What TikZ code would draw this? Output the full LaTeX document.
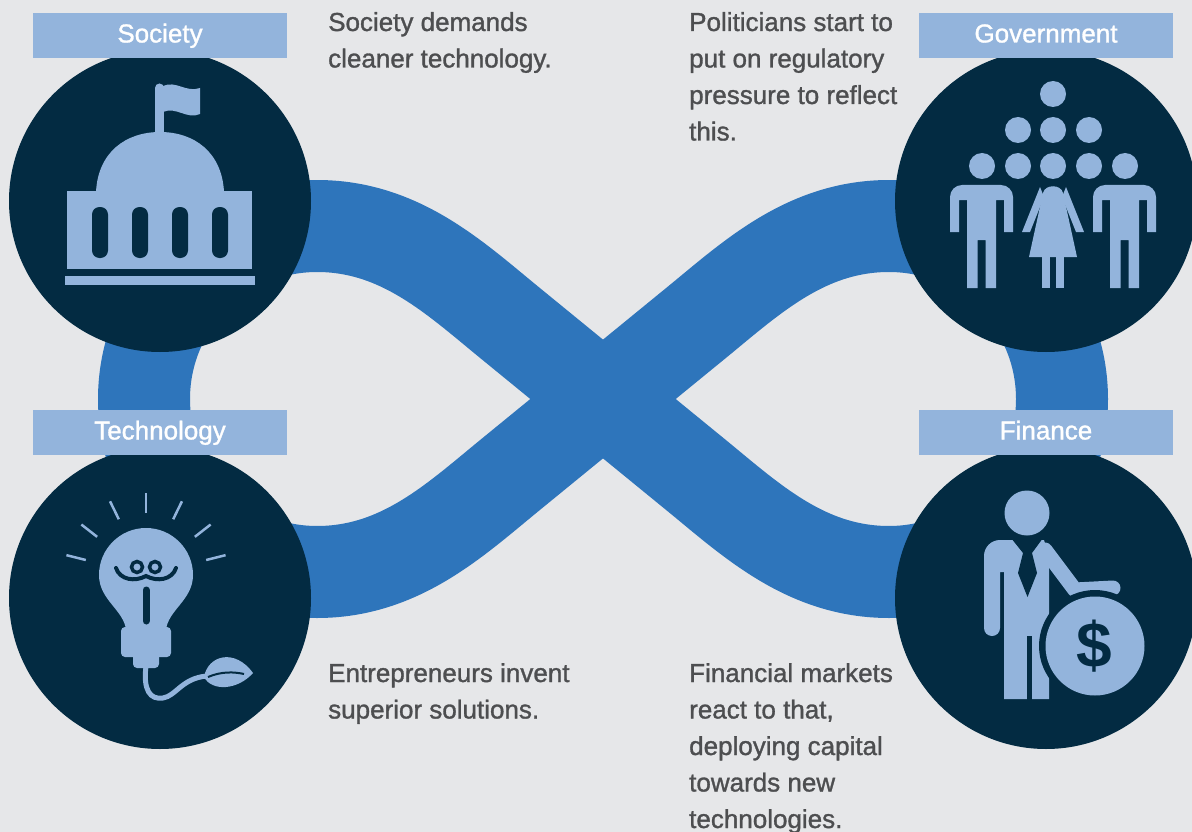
\documentclass[tikz,border=0pt]{standalone}
\usepackage{fontspec}
\setmainfont{Liberation Sans}
\newfontfamily\notefont{Liberation Sans}[FakeBold=1.2]
\usepackage{tikz}
\usetikzlibrary{positioning}
\definecolor{bggray}{RGB}{230,231,233}
\definecolor{hubnavy}{RGB}{3,43,66}
\definecolor{iconblue}{RGB}{147,180,220}
\definecolor{bandblue}{RGB}{46,117,187}
\definecolor{notegray}{RGB}{77,78,80}

\begin{document}
\begin{tikzpicture}[x=1pt, y=-1pt,
	hub/.style={circle, fill=hubnavy, minimum size=302pt, inner sep=0pt},
	tag/.style={fill=iconblue, text=white, minimum width=254pt, minimum height=45pt, inner sep=0pt, text height=19pt, text depth=5pt, font=\notefont\fontsize{26}{30}\selectfont},
	note/.style={anchor=base west, inner sep=0pt, text=notegray, font=\notefont\fontsize{26}{36.5}\selectfont},
	band/.style={draw=bandblue, line width=92pt, line join=round},
	icon/.style={fill=iconblue},
	notch/.style={fill=hubnavy}]
			\pgfmathsetmacro{\loopr}{173}
			\useasboundingbox (0,0) rectangle (1192,832);
			\clip (0,0) rectangle (1192,832);
			\fill[bggray] (0,0) rectangle (1192,832);
			%% the figure-eight band
			\draw[band] (603,399) -- (510,323) .. controls (455,278) and (400,226) .. (317,226)
				arc[start angle=270, end angle=90, radius=\loopr]
				.. controls (400,572) and (455,520) .. (510,475) -- (696,323)
				.. controls (751,278) and (806,226) .. (889,226)
				arc[start angle=270, end angle=450, radius=\loopr]
				.. controls (806,572) and (751,520) .. (696,475) -- cycle;
			\node[hub] (society) at (160,201) {};
			\node[hub] (government) at (1046,201) {};
			\node[hub] (technology) at (160,598) {};
			\node[hub] (finance) at (1046,598) {};
			\node[tag] (societytag) at (160,35.5) {Society};
			\node[tag] (governmenttag) at (1046,35.5) {Government};
			\node[tag] (technologytag) at (160,432.5) {Technology};
			\node[tag] (financetag) at (1046,432.5) {Finance};
			%% society: capitol
			\fill[icon] (155,88) rectangle (164,134);
			\fill[icon] (159.5,88) circle[radius=4.5];
			\fill[icon] (163,86) .. controls (176,80) and (186,93) .. (200,88) -- (200,114) .. controls (187,120) and (176,106) .. (163,112) -- cycle;
			\fill[icon] (96,192) .. controls (98,152) and (126,132) .. (160,132) .. controls (194,132) and (222,152) .. (224,192) -- cycle;
			\fill[icon] (67,191) rectangle (252,269);
			\foreach \cx in {100,140,180,220}
				\fill[notch, rounded corners=7.5pt] (\cx-8,207) rectangle (\cx+8,258);
			\fill[icon] (65,276) rectangle (255,285);
			%% government: crowd
			\foreach \hx/\hy in {1053/94, 1018/130, 1053/130, 1089/130, 982/166, 1018/166, 1053/166, 1089/166, 1125/166}
				\fill[icon] (\hx,\hy) circle[radius=13];
			\foreach \cx in {981.5,1124.5}
				\fill[icon] (\cx-31.5,232) -- (\cx-31.5,197) arc[start angle=180, end angle=270, radius=12]
					-- (\cx+19.5,185) arc[start angle=270, end angle=360, radius=12]
					-- (\cx+31.5,232) -- (\cx+22.5,232) -- (\cx+22.5,200) -- (\cx+14.5,200) -- (\cx+14.5,288)
					-- (\cx+4,288) -- (\cx+4,240) -- (\cx-4,240) -- (\cx-4,288) -- (\cx-14.5,288)
					-- (\cx-14.5,200) -- (\cx-22.5,200) -- (\cx-22.5,232) -- cycle;
			\fill[icon] (1043,193) .. controls (1045,184) and (1061,184) .. (1063,193) -- (1077,257) -- (1029,257) -- cycle;
			\fill[icon] (1040,187) -- (1022,232) -- (1030,232) -- (1044,197) -- cycle;
			\fill[icon] (1066,187) -- (1084,232) -- (1076,232) -- (1062,197) -- cycle;
			\fill[icon] (1042,255) rectangle (1050,288);
			\fill[icon] (1056,255) rectangle (1064,288);
			%% technology: bulb
			\foreach \a in {14,38,64,90,116,142,166}
				\draw[iconblue, line width=2.5pt] (146,575) ++(-\a:62) -- ++(-\a:20);
			\fill[icon] (126,630) .. controls (124,610) and (99,600) .. (99,575)
				arc[start angle=180, end angle=360, radius=47]
				.. controls (193,600) and (168,610) .. (166,630) -- cycle;
			\fill[icon, rounded corners=4pt] (121,627) rectangle (171,657);
			\fill[icon, rounded corners=4pt] (133,650) rectangle (159,668);
			\draw[hubnavy, line width=4pt, line cap=round] (116,568) .. controls (120,580) and (135,582) .. (146,576) .. controls (157,582) and (172,580) .. (176,568);
			\draw[hubnavy, line width=3.5pt] (137,567) circle[radius=5.5] (155,567) circle[radius=5.5];
			\draw[hubnavy, line width=7pt, line cap=round] (146,590) -- (146,621);
			\draw[iconblue, line width=5pt] (146,666) .. controls (143,690) and (150,700) .. (163,698) .. controls (176,696) and (182,678) .. (207,676);
			\fill[icon] (204,677) .. controls (208,655) and (235,648) .. (253,673) .. controls (238,690) and (212,692) .. (204,677) -- cycle;
			\draw[hubnavy, line width=2pt] (208,677) .. controls (222,671) and (235,672) .. (244,674);
			%% finance: man with coin
			\fill[icon] (1027,513) circle[radius=22.5];
			\fill[icon] (1000,572) -- (1000,628) arc[start angle=0, end angle=180, radius=8]
				-- (984,556) arc[start angle=180, end angle=270, radius=16]
				-- (1044,540) -- (1049,556) -- (1049,699) -- (1004,699) -- (1004,572) -- cycle;
			\draw[iconblue, line width=15pt, line cap=round, line join=round] (1045,550) -- (1075,590) -- (1113,588);
			\fill[notch] (1011,538) -- (1043,538) -- (1032,553) -- (1037,573) -- (1027.5,597) -- (1018,573) -- (1023,553) -- cycle;
			\fill[notch] (1027,636) rectangle (1032,700);
			\fill[hubnavy] (1095,646) circle[radius=56];
			\fill[icon] (1095,646) circle[radius=49.5];
			\node[text=hubnavy, font=\bfseries\fontsize{64}{64}\selectfont] (dollar) at (1094,646) {\$};
			%% captions
			\node[note] (societynote) at (328,31) {\parbox[t]{260pt}{Society demands\\cleaner technology.}};
			\node[note] (governmentnote) at (689,31) {\parbox[t]{230pt}{Politicians start to\\put on regulatory\\pressure to reflect\\this.}};
			\node[note] (technologynote) at (328,682) {\parbox[t]{260pt}{Entrepreneurs invent\\superior solutions.}};
			\node[note] (financenote) at (689,682) {\parbox[t]{230pt}{Financial markets\\react to that,\\deploying capital\\towards new\\technologies.}};
\end{tikzpicture}
\end{document}
